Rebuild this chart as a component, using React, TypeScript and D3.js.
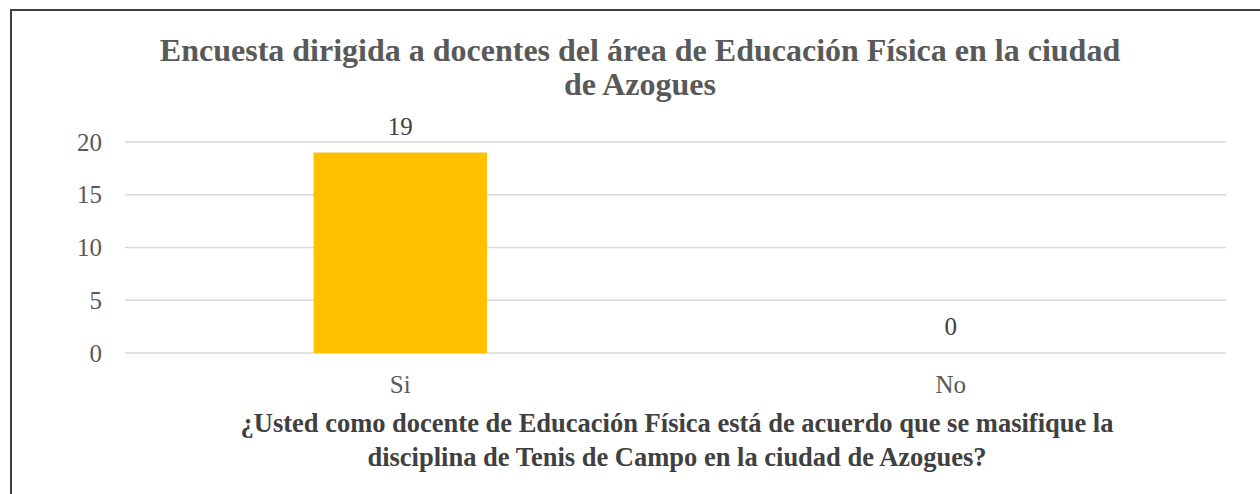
import React from "react";
import * as d3 from "d3";

const categories = ["Si", "No"];
const values = [19, 0];
const yTicks = [0, 5, 10, 15, 20];
const titleLines = [
  "Encuesta dirigida a docentes del área de Educación Física en la ciudad",
  "de Azogues",
];
const xTitleLines = [
  "¿Usted como docente de Educación Física está de acuerdo que se masifique la",
  "disciplina de Tenis de Campo en la ciudad de Azogues?",
];

export default function App() {
  const W = 1260;
  const H = 494;
  const left = 125;
  const right = 1226;
  const top = 142;
  const bottom = 353;
  const x = d3.scaleBand<string>().domain(categories).range([left, right]).paddingInner(0.685).paddingOuter(0.3425);
  const y = d3.scaleLinear().domain([0, 20]).range([bottom, top]);
  const font = "'Liberation Serif', 'Times New Roman', serif";
  return (
    <svg width={W} height={H} style={{ position: "absolute", left: 0, top: 0, background: "#fff" }}>
      <rect x={11} y={10} width={W + 20} height={H + 20} fill="#fff" stroke="#404040" strokeWidth={2} />
      {titleLines.map((t, i) => (
        <text key={i} x={640} y={61 + i * 34} textAnchor="middle" fontFamily={font} fontWeight="bold" fontSize={32} fill="#595959">
          {t}
        </text>
      ))}
      {yTicks.map((t) => (
        <g key={t}>
          <line x1={left} x2={right} y1={y(t)} y2={y(t)} stroke="#d9d9d9" strokeWidth={1.5} />
          <text x={102} y={y(t) + 8.5} textAnchor="end" fontFamily={font} fontSize={25} fill="#595959">
            {t}
          </text>
        </g>
      ))}
      {categories.map((c, i) => (
        <g key={c}>
          <rect x={x(c)} y={y(values[i])} width={x.bandwidth()} height={y(0) - y(values[i])} fill="#FFC000" />
          <text x={x(c)! + x.bandwidth() / 2} y={y(values[i]) - 18} textAnchor="middle" fontFamily={font} fontSize={25} fill="#404040">
            {values[i]}
          </text>
          <text x={x(c)! + x.bandwidth() / 2} y={393} textAnchor="middle" fontFamily={font} fontSize={25} fill="#595959">
            {c}
          </text>
        </g>
      ))}
      {xTitleLines.map((t, i) => (
        <text key={i} x={677} y={432 + i * 34} textAnchor="middle" fontFamily={font} fontWeight="bold" fontSize={26.5} fill="#404040">
          {t}
        </text>
      ))}
    </svg>
  );
}
